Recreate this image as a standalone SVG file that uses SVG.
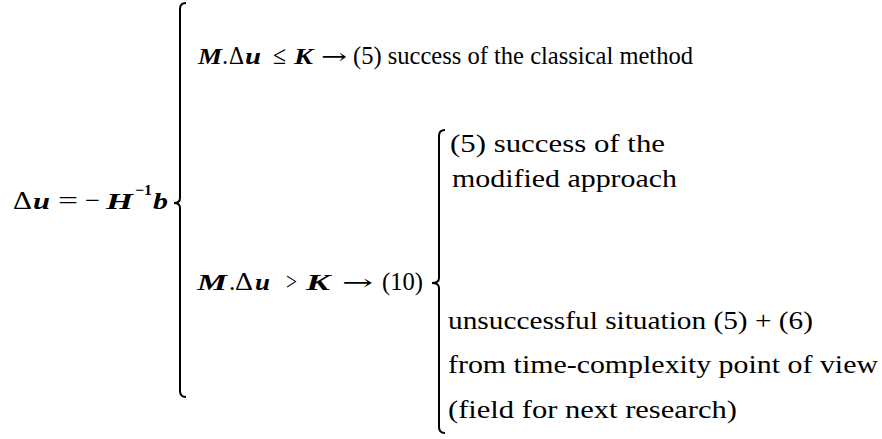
<svg xmlns="http://www.w3.org/2000/svg" width="882" height="439" viewBox="0 0 882 439">
<style>
.t{font-family:"Liberation Serif","Times New Roman",serif;font-size:25px;fill:#000}
.o{font-family:"Liberation Serif","Times New Roman",serif;font-size:26px;fill:#000}
.a{font-family:"DejaVu Serif","Liberation Serif",serif;font-size:22px;fill:#000}
.m{font-family:"Liberation Serif","Times New Roman",serif;font-size:24px;font-weight:bold;font-style:italic;fill:#000}
.s{font-family:"Liberation Serif","Times New Roman",serif;font-size:15px;font-weight:bold;fill:#000}
.br{fill:none;stroke:#000;stroke-width:2}
</style>
<rect width="882" height="439" fill="#fff"/>
<g id="connectors">
<path class="br" d="M186,3 Q180,3 180,9 L180,198 Q180,203 174,203 Q180,203 180,208 L180,391 Q180,397 186,397"/>
<path class="br" d="M445,130 Q439,130 439,136 L439,278 Q439,283 432,283 Q439,283 439,288 L439,427 Q439,433 445,433"/>
</g>
<g id="root">
<text class="t" x="13" y="209" textLength="19" lengthAdjust="spacingAndGlyphs">Δ</text>
<text class="m" x="33" y="209" textLength="17" lengthAdjust="spacingAndGlyphs">u</text>
<text class="o" x="58" y="209" textLength="20" lengthAdjust="spacingAndGlyphs">=</text>
<text class="o" x="85" y="209" textLength="15" lengthAdjust="spacingAndGlyphs">−</text>
<text class="m" x="106" y="209" textLength="27" lengthAdjust="spacingAndGlyphs">H</text>
<text class="s" x="135" y="195" textLength="17" lengthAdjust="spacingAndGlyphs">−1</text>
<text class="m" x="153" y="209" textLength="15" lengthAdjust="spacingAndGlyphs">b</text>
</g>
<g id="case1">
<text class="m" x="198" y="64" textLength="24" lengthAdjust="spacingAndGlyphs">M</text>
<text class="t" x="222" y="64">.</text>
<text class="t" x="229" y="64" textLength="15" lengthAdjust="spacingAndGlyphs">Δ</text>
<text class="m" x="245" y="64" textLength="16" lengthAdjust="spacingAndGlyphs">u</text>
<text class="o" x="273" y="64" textLength="13" lengthAdjust="spacingAndGlyphs">≤</text>
<text class="m" x="294" y="64" textLength="19" lengthAdjust="spacingAndGlyphs">K</text>
<text class="a" x="321" y="64" textLength="26" lengthAdjust="spacingAndGlyphs">→</text>
<text class="t" x="353" y="64" textLength="340" lengthAdjust="spacingAndGlyphs">(5) success of  the classical  method</text>
</g>
<g id="case2">
<text class="m" x="197" y="290" textLength="30" lengthAdjust="spacingAndGlyphs">M</text>
<text class="t" x="229" y="290">.</text>
<text class="t" x="235" y="290" textLength="18" lengthAdjust="spacingAndGlyphs">Δ</text>
<text class="m" x="255" y="290" textLength="15" lengthAdjust="spacingAndGlyphs">u</text>
<text class="o" x="286" y="290" textLength="11" lengthAdjust="spacingAndGlyphs">&gt;</text>
<text class="m" x="306" y="290" textLength="24" lengthAdjust="spacingAndGlyphs">K</text>
<text class="a" x="342" y="290" textLength="31" lengthAdjust="spacingAndGlyphs">→</text>
<text class="t" x="382" y="290" textLength="41" lengthAdjust="spacingAndGlyphs">(10)</text>
</g>
<g id="sub1">
<text class="t" x="450" y="152" textLength="215" lengthAdjust="spacingAndGlyphs">(5) success of  the</text>
<text class="t" x="452" y="187" textLength="225" lengthAdjust="spacingAndGlyphs">modified approach</text>
</g>
<g id="sub2">
<text class="t" x="448" y="329" textLength="365" lengthAdjust="spacingAndGlyphs">unsuccessful  situation (5) + (6)</text>
<text class="t" x="448" y="373" textLength="430" lengthAdjust="spacingAndGlyphs">from  time-complexity point  of  view</text>
<text class="t" x="448" y="418" textLength="289" lengthAdjust="spacingAndGlyphs">(field  for  next  research)</text>
</g>
</svg>
